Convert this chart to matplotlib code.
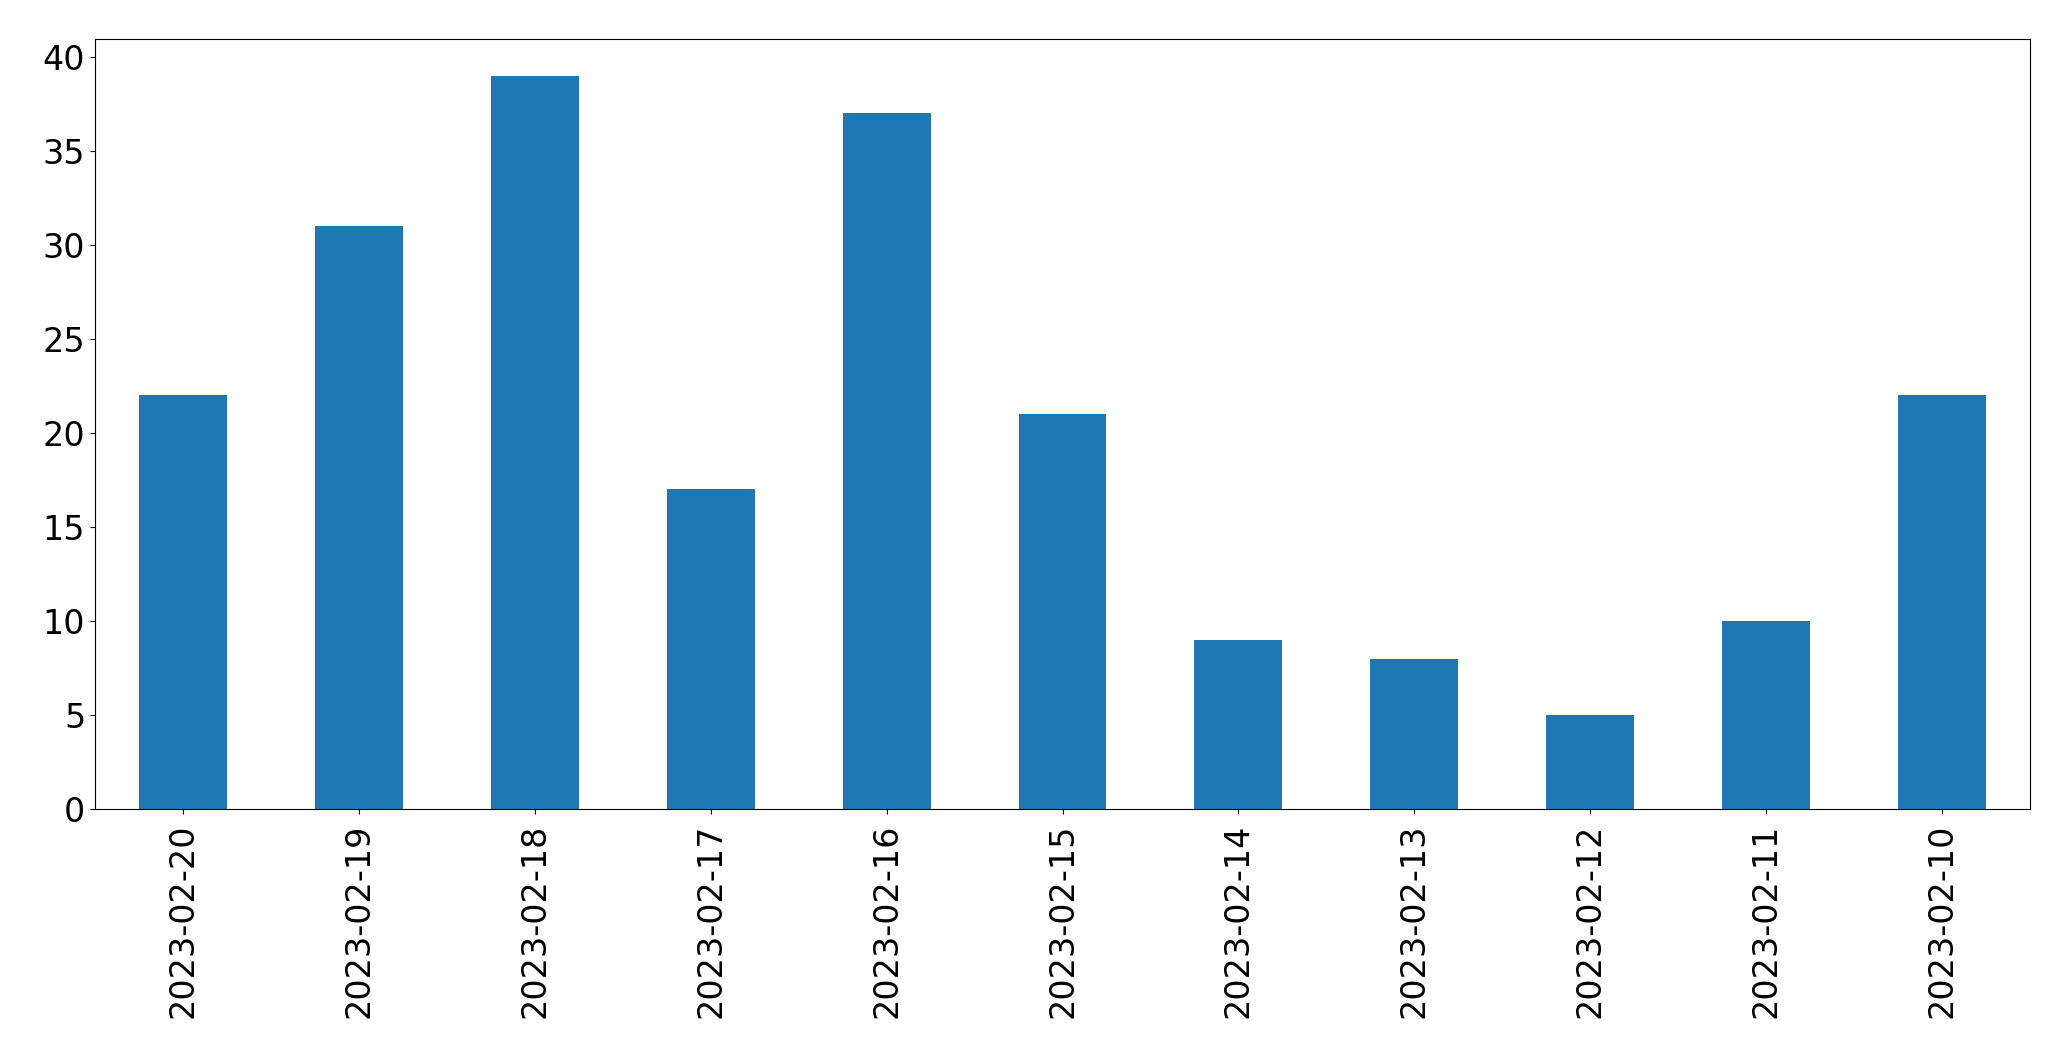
import matplotlib
matplotlib.use("Agg")
import matplotlib.pyplot as plt
import pandas as pd

dates = ["2023-02-20", "2023-02-19", "2023-02-18", "2023-02-17", "2023-02-16", "2023-02-15",
         "2023-02-14", "2023-02-13", "2023-02-12", "2023-02-11", "2023-02-10"]
counts = [22, 31, 39, 17, 37, 21, 9, 8, 5, 10, 22]

s = pd.Series(counts, index=dates)

fig = plt.figure(figsize=(20.71, 10.61), dpi=100)
ax = fig.add_axes([95 / 2071, 1 - 809 / 1061, 1935 / 2071, 770 / 1061])
s.plot(kind="bar", ax=ax, color="#1f77b4", fontsize=24)
ax.tick_params(axis="both", labelsize=24)
ax.tick_params(axis="x", pad=7)

fig.savefig("out.png", dpi=100)
plt.close(fig)
